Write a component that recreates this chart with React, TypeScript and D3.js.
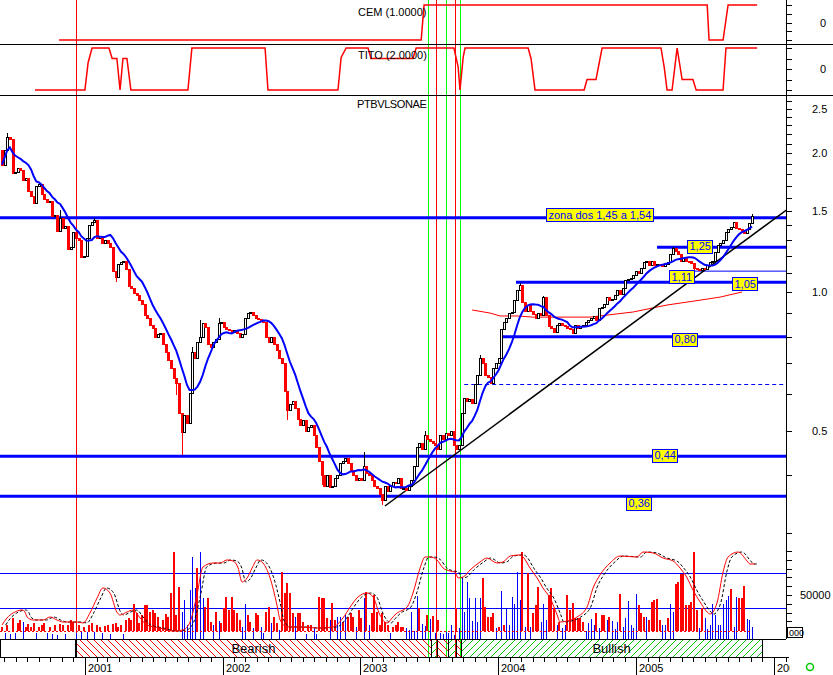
import React, { useMemo } from "react";
import * as d3 from "d3";

const FONT = "'Liberation Sans', Arial, Helvetica, sans-serif";

// ---------------- data ----------------
const firstWeek = new Date(2000, 4, 26); // first weekly bar
const firstOpen = 2.03;
const closes = [
  1.89, 2.03, 2.17, 2.15, 1.81, 1.82, 1.86, 1.84, 1.75, 1.77,
  1.66, 1.62, 1.56, 1.70, 1.72, 1.63, 1.59, 1.57, 1.58, 1.46,
  1.47, 1.36, 1.45, 1.38, 1.39, 1.24, 1.25, 1.35, 1.31, 1.30,
  1.19, 1.20, 1.31, 1.40, 1.42, 1.43, 1.31, 1.32, 1.28, 1.30,
  1.28, 1.25, 1.11, 1.08, 1.15, 1.16, 1.17, 1.12, 1.03, 1.02,
  0.995, 0.985, 0.96, 0.94, 0.89, 0.88, 0.85, 0.835, 0.80, 0.81,
  0.815, 0.77, 0.74, 0.71, 0.685, 0.65, 0.634, 0.546, 0.497, 0.54,
  0.52, 0.605, 0.74, 0.72, 0.78, 0.80, 0.855, 0.84, 0.77, 0.76,
  0.78, 0.79, 0.855, 0.86, 0.84, 0.83, 0.825, 0.82, 0.825, 0.815,
  0.80, 0.81, 0.88, 0.90, 0.905, 0.89, 0.88, 0.875, 0.87, 0.86,
  0.80, 0.78, 0.80, 0.77, 0.75, 0.72, 0.70, 0.61, 0.555, 0.57,
  0.58, 0.56, 0.53, 0.515, 0.527, 0.50, 0.51, 0.515, 0.49, 0.46,
  0.43, 0.40, 0.38, 0.40, 0.378, 0.38, 0.395, 0.40, 0.425, 0.43,
  0.435, 0.425, 0.41, 0.40, 0.39, 0.395, 0.39, 0.42, 0.405, 0.40,
  0.39, 0.38, 0.375, 0.365, 0.353, 0.38, 0.37, 0.38, 0.387, 0.385,
  0.395, 0.375, 0.375, 0.372, 0.38, 0.39, 0.42, 0.46, 0.47, 0.455,
  0.49, 0.48, 0.475, 0.47, 0.465, 0.455, 0.49, 0.48, 0.495, 0.49,
  0.50, 0.465, 0.455, 0.465, 0.545, 0.59, 0.58, 0.585, 0.575, 0.63,
  0.66, 0.72, 0.70, 0.66, 0.655, 0.635, 0.685, 0.70, 0.72, 0.83,
  0.86, 0.88, 0.90, 0.905, 0.96, 1.01, 1.035, 0.95, 0.91, 0.935,
  0.91, 0.895, 0.88, 0.90, 0.89, 0.975, 0.89, 0.845, 0.835, 0.82,
  0.85, 0.855, 0.85, 0.845, 0.835, 0.83, 0.815, 0.847, 0.835, 0.845,
  0.85, 0.86, 0.87, 0.88, 0.885, 0.87, 0.925, 0.93, 0.94, 0.975,
  0.96, 0.965, 0.985, 1.01, 0.99, 1.02, 1.06, 1.065, 1.07, 1.09,
  1.11, 1.10, 1.13, 1.16, 1.17, 1.145, 1.17, 1.145, 1.15, 1.145,
  1.14, 1.15, 1.16, 1.21, 1.245, 1.23, 1.21, 1.17, 1.185, 1.17,
  1.165, 1.155, 1.13, 1.12, 1.115, 1.13, 1.12, 1.145, 1.16, 1.17,
  1.22, 1.265, 1.28, 1.30, 1.35, 1.37, 1.385, 1.42, 1.38, 1.37,
  1.35, 1.345, 1.37, 1.41, 1.46,
];
const wickHighs: [number, number][] = [
  [2, 2.21], [22, 1.51], [35, 1.445], [72, 0.76], [75, 0.87], [82, 0.88],
  [137, 0.45], [160, 0.50], [181, 0.73], [196, 1.045], [205, 0.98], [254, 1.255], [284, 1.48],
];
const wickLows: [number, number][] = [
  [43, 1.05], [66, 0.597], [68, 0.443], [108, 0.527], [121, 0.381], [144, 0.345], [262, 1.116],
];
const maWeeks = 10;

// weekly volume in thousands and side (R = falling week, B = rising week)
const volumeK = [
  14, 7, 16, 6, 24, 7, 18, 22, 19, 14,
  17, 14, 18, 7, 14, 16, 18, 7, 14, 6,
  16, 5, 17, 16, 6, 16, 22, 19, 7, 16,
  8, 14, 8, 16, 18, 8, 16, 14, 7, 15,
  16, 6, 17, 18, 14, 16, 6, 22, 24, 22,
  40, 30, 18, 27, 39, 39, 31, 33, 30, 25,
  14, 22, 28, 25, 52, 99, 27, 59, 31, 44,
  16, 56, 93, 58, 81, 99, 47, 36, 47, 19,
  16, 31, 20, 18, 35, 48, 33, 48, 33, 30,
  22, 14, 40, 27, 19, 12, 30, 27, 14, 7,
  31, 36, 18, 25, 18, 10, 76, 52, 64, 52,
  30, 25, 30, 30, 19, 6, 16, 16, 12, 6,
  48, 47, 47, 24, 22, 41, 22, 25, 25, 19,
  27, 25, 30, 25, 14, 33, 24, 47, 53, 16,
  30, 50, 31, 16, 30, 19, 16, 7, 14, 16,
  19, 14, 14, 12, 10, 31, 9, 49, 35, 17,
  15, 27, 23, 26, 7, 22, 7, 6, 8, 7,
  16, 5, 35, 12, 69, 31, 65, 47, 20, 47,
  19, 47, 69, 36, 25, 25, 30, 12, 14, 55,
  16, 35, 16, 48, 40, 76, 44, 99, 14, 75,
  14, 30, 39, 59, 19, 40, 22, 50, 58, 35,
  16, 19, 12, 16, 50, 33, 41, 24, 24, 24,
  19, 9, 18, 23, 16, 30, 12, 27, 27, 22,
  25, 20, 11, 19, 51, 14, 24, 43, 16, 12,
  51, 39, 30, 25, 25, 22, 42, 44, 45, 22,
  16, 16, 24, 40, 31, 62, 65, 74, 74, 39,
  39, 42, 99, 33, 12, 35, 24, 11, 16, 40,
  27, 16, 16, 40, 44, 49, 57, 14, 48, 47,
  47, 60, 23, 22, 14,
];
const volumeSide = (
  "RBRBRBRRBR" + "RRRBRRRBRB" + "RBRRBRRRBR" + "BRBRRBRRBR" + "RBRRRRBRRR" +
  "RRRRRRRRRR" + "RRRRRRRRBB" + "BBBBRBBRRR" + "BRBRRRRRRR" + "RBBRRBRRBB" +
  "RRBRRBRRRR" + "RBRRRBRRBB" + "RRRRBRRBBR" + "BRRRBRRBRB" + "RRRRRRRBRR" +
  "RRRBBBBBRB" + "BRBRBRBBBB" + "BBRBBBBBBB" + "BBRRRRRBRB" + "RBBBBBBRBR" +
  "BRRRBBBRRR" + "BRBBRRRRRR" + "RBBBBRBRRB" + "RBBBRBBBBB" + "BRRRBRRRRR" +
  "BBRBBRRRRR" + "RRRRBRBBBB" + "BBBBBBRBBR" + "RRBBB"
).split("");
const redBaseK = 9;
const volumeTicksK = [10, 20, 30, 40, 50, 60, 70, 80, 90, 100];

// oscillator in the volume panel: [week, value]
const oscillator: [number, number][] = [
  [0, 10.6], [1.9, 18.6], [4.2, 24.3], [7.6, 27.7], [8.7, 25.4], [9.5, 19.7], [11.7, 16.3], [15.5, 16.3],
  [18.2, 19.7], [20.8, 16.3], [23.1, 14], [28.4, 14], [30.7, 12.9], [33.3, 24.3], [36, 41.4], [38.2, 52.9],
  [40.9, 47.1], [43.5, 25.4], [44.7, 22], [47.3, 25.4], [49.6, 27.7], [52.3, 18.6], [54.9, 10.6], [59.8, 7.1],
  [64.7, 3.7], [68.5, 4.9], [71.2, 14], [73.8, 44.9], [76.1, 76.9], [79.9, 81.4], [82.5, 81.4], [85.2, 84.9],
  [87.5, 83.7], [89.4, 75.7], [90.9, 59.7], [92.8, 64.3], [94.7, 75.7], [96.6, 84.9], [98.8, 81.4], [101.5, 64.3],
  [104.1, 33.4], [105.3, 16.3], [107.9, 8.3], [112.8, 8.3], [119.3, 7.1], [125.3, 8.3], [129.1, 18.6], [131.8, 31.1],
  [134.8, 42.6], [138.2, 47.1], [140.5, 42.6], [143.1, 22], [145.8, 12.9], [148, 19.7], [149.6, 24.3], [153.4, 31.1],
  [155.6, 47.1], [158.3, 75.7], [160.2, 88.3], [162.1, 88.3], [164.7, 84.9], [167, 75.7], [169.6, 72.3], [171.5, 71.1],
  [172.7, 64.3], [174.6, 65.4], [177.2, 73.4], [181, 82.6], [183.6, 87.1], [187.4, 81.4], [189.7, 82.6], [192.4, 89.4],
  [196.1, 90.6], [197.3, 88.3], [199.9, 75.7], [202.6, 64.3], [204.8, 52.9], [207.5, 41.4], [210.2, 22], [211.3, 14],
  [214, 15.1], [217.7, 19.7], [221.5, 31.1], [223.8, 52.9], [226.4, 67.7], [230.2, 81.4], [234, 89.4], [240.4, 88.3],
  [242.7, 94], [246.5, 92.9], [250.3, 87.1], [254.1, 83.7], [256.7, 75.7], [259.4, 64.3], [261.6, 50.6], [264.3, 36.9],
  [267, 25.4], [268.1, 23.1], [270.7, 35.7], [273, 71.1], [274.9, 88.3], [278.7, 94], [282.1, 83.7], [283.2, 80.3],
  [285, 80.3],
];
const signalLagWeeks = 1.4;
const oscLevels = [30, 70];

// upper indicator panels: [week, value]
const cem: [number, number][] = [
  [21.6, -1], [158.7, -1], [159.8, 1], [267, 1], [267.7, -1], [273, -1], [274.9, 1], [285.9, 1],
];
const tito: [number, number][] = [
  [12.5, -2], [31.4, -2], [32.6, 0.6], [34.1, 2], [40.5, 2], [41.7, 1], [43.5, 1], [44.7, -2],
  [45.8, 1], [47.3, 1], [48.8, -2], [70.4, -2], [71.9, 2], [99.6, 2], [100.7, -2], [127.2, -2],
  [128.4, 1.1], [130.3, 2], [138.6, 2], [139.7, 1], [155.6, 1], [156.8, 2], [171.1, 2], [172.7, 0.2],
  [173.4, -2], [174.6, 1.1], [175.3, 2], [199.2, 2], [200.3, 1], [201.8, -2], [220.4, -2], [221.5, -1],
  [224.9, -1], [227.2, 2], [249.5, 2], [250.7, 0.2], [251.8, -2], [253.7, -2], [255.6, 2], [257.5, -1],
  [261.6, -1], [262.8, -2], [273, -2], [274.1, 2], [285.9, 2],
];

// drawn objects on the price panel
const levels = [
  { value: 1.45, fromWeek: -1, width: 3 },
  { value: 1.25, fromWeek: 248, width: 3 },
  { value: 1.11, fromWeek: 253, width: 1 },
  { value: 1.05, fromWeek: 194.6, width: 3 },
  { value: 0.80, fromWeek: 188.6, width: 3 },
  { value: 0.44, fromWeek: -1, width: 3 },
  { value: 0.36, fromWeek: -1, width: 3 },
];
const notes = [
  { text: "zona dos 1,45 a 1,54", week: 206, value: 1.45, dy: -3 },
  { text: "1,25", week: 259.4, value: 1.25, dy: -1 },
  { text: "1,11", week: 252.6, value: 1.11, dy: 5.5 },
  { text: "1,05", week: 276.4, value: 1.05, dy: 1.5 },
  { text: "0,80", week: 253.7, value: 0.8, dy: 2.5 },
  { text: "0,44", week: 246.1, value: 0.44, dy: -1 },
  { text: "0,36", week: 236.3, value: 0.36, dy: 7 },
];
const trendLine: [number, number][] = [[145, 0.343], [297, 1.507]];
const dashedLevel = { value: 0.63, fromWeek: 175, toWeek: 297 };
const longCurve: [number, number][] = [
  [178, 0.914], [184.8, 0.9], [188.6, 0.887], [195, 0.887], [201, 0.882], [222.6, 0.882],
  [239, 0.905], [251.8, 0.937], [264.3, 0.96], [271.9, 0.975], [280.2, 1.0],
];
const redMarkers = [28, 164.3, 171.5];
const greenMarkers = [161.3, 168.1, 173.4];
const trendBand = [
  { from: 28, to: 162.4, kind: "bear" },
  { from: 162.4, to: 164.7, kind: "bull" },
  { from: 164.7, to: 168.9, kind: "bear" },
  { from: 168.9, to: 171.9, kind: "bull" },
  { from: 171.9, to: 173.8, kind: "bear" },
  { from: 173.8, to: 287.8, kind: "bull" },
];
const bandLabels = [
  { text: "Bearish", segment: 0 },
  { text: "Bullish", segment: 5 },
];
const priceTicks = d3.range(3, 27).map((k) => k / 10);
const priceLabels = [0.5, 1.0, 1.5, 2.0, 2.5];

// ---------------- layout ----------------
const AXIS_X = 786;
const SEP1 = 44;
const SEP2 = 95;
const VOL_BOTTOM = 639;
const BAND_BOTTOM = 657;

export default function App() {
  const measure = useMemo(() => {
    const ctx = document.createElement("canvas").getContext("2d");
    if (ctx) ctx.font = `11px ${FONT}`;
    return (s: string) => (ctx ? ctx.measureText(s).width : s.length * 6);
  }, []);

  const xTime = d3.scaleTime().domain([new Date(2001, 0, 1), new Date(2006, 0, 1)]).range([85, 774]);
  const weekDate = (w: number) => new Date(firstWeek.getTime() + w * 7 * 86400000);
  const xw = (w: number) => xTime(weekDate(w));

  const yMain = d3.scaleLog().domain([1, Math.E]).range([292, 92]);
  const yVol = d3.scaleLinear().domain([0, 50000]).range([VOL_BOTTOM, 595]);
  const yOsc = d3.scaleLinear().domain([30, 70]).range([608, 573]);
  const yCem = d3.scaleLinear().domain([-1, 1]).range([40, 5]);
  const yTito = d3.scaleLinear().domain([-2, 2]).range([90, 48]);

  const candles = closes.map((c, i) => {
    const o = i === 0 ? firstOpen : closes[i - 1];
    return { i, o, c, up: c >= o };
  });
  const ma = closes.map((_, i) => d3.mean(closes.slice(Math.max(0, i - maWeeks + 1), i + 1)) as number);

  const lineMain = d3.line<[number, number]>().x((d) => xw(d[0])).y((d) => yMain(d[1]));
  const maPath = d3.line<number>().x((_, i) => xw(i)).y((d) => yMain(d))(ma) || "";
  const oscPath = d3.line<[number, number]>().x((d) => xw(d[0])).y((d) => yOsc(d[1])).curve(d3.curveMonotoneX);
  const cemPath = d3.line<[number, number]>().x((d) => xw(d[0])).y((d) => yCem(d[1]))(cem) || "";
  const titoPath = d3.line<[number, number]>().x((d) => xw(d[0])).y((d) => yTito(d[1]))(tito) || "";

  const months = d3.timeMonth.range(xTime.invert(0), xTime.invert(AXIS_X + 2));
  const years = d3.timeYear.range(xTime.invert(0), xTime.invert(AXIS_X + 2));
  const redBaseY = yVol(redBaseK * 1000);
  const lastX = xw(closes.length - 1);

  return (
    <svg
      width={833}
      height={675}
      style={{ position: "absolute", left: 0, top: 0, background: "#fff", fontFamily: FONT }}
    >
      <defs>
        <pattern id="bear" patternUnits="userSpaceOnUse" width="7" height="7">
          <path d="M0,0 L7,7 M-1,6 L1,8 M6,-1 L8,1" stroke="#ff0000" strokeWidth="1" />
        </pattern>
        <pattern id="bull" patternUnits="userSpaceOnUse" width="7" height="7">
          <path d="M0,7 L7,0 M-1,1 L1,-1 M6,8 L8,6" stroke="#00c800" strokeWidth="1" />
        </pattern>
        <clipPath id="plotClip">
          <rect x={0} y={0} width={AXIS_X} height={675} />
        </clipPath>
        <clipPath id="yearClip">
          <rect x={0} y={0} width={790} height={675} />
        </clipPath>
      </defs>
      <rect x={0} y={0} width={833} height={675} fill="#fff" />

      {/* vertical markers */}
      <g shapeRendering="crispEdges">
        {greenMarkers.map((w, k) => (
          <line key={"g" + k} x1={Math.round(xw(w)) + 0.5} x2={Math.round(xw(w)) + 0.5} y1={0} y2={BAND_BOTTOM} stroke="#00ff00" />
        ))}
        {redMarkers.map((w, k) => (
          <line key={"r" + k} x1={Math.round(xw(w)) + 0.5} x2={Math.round(xw(w)) + 0.5} y1={0} y2={k === 0 ? VOL_BOTTOM : BAND_BOTTOM} stroke="#ff0000" />
        ))}
      </g>

      {/* separators */}
      <g shapeRendering="crispEdges" stroke="#000">
        <line x1={0} x2={833} y1={SEP1 + 0.5} y2={SEP1 + 0.5} />
        <line x1={0} x2={833} y1={SEP2 + 0.5} y2={SEP2 + 0.5} />
      </g>

      {/* CEM and TITO */}
      <path d={cemPath} fill="none" stroke="#ff0000" strokeWidth={1.5} />
      <path d={titoPath} fill="none" stroke="#ff0000" strokeWidth={1.5} />
      <text x={358} y={16} fontSize={11} fill="#000">CEM (1.0000)</text>
      <text x={358} y={59} fontSize={11} fill="#000">TITO (2.0000)</text>
      <text x={357} y={108} fontSize={11} fill="#000" letterSpacing={-0.4}>PTBVLSONAE</text>

      {/* price panel objects */}
      <g clipPath="url(#plotClip)">
        {levels.map((l, k) => (
          <line
            key={"lv" + k}
            x1={Math.max(0, xw(l.fromWeek))}
            x2={AXIS_X}
            y1={yMain(l.value)}
            y2={yMain(l.value)}
            stroke="#0000ff"
            strokeWidth={l.width}
          />
        ))}
        <line
          x1={xw(dashedLevel.fromWeek)}
          x2={xw(dashedLevel.toWeek)}
          y1={Math.round(yMain(dashedLevel.value)) + 0.5}
          y2={Math.round(yMain(dashedLevel.value)) + 0.5}
          stroke="#0000ff"
          strokeDasharray="4,3"
        />
        <path d={lineMain(longCurve) || ""} fill="none" stroke="#ff0000" strokeWidth={1} />
        <path d={lineMain(trendLine) || ""} fill="none" stroke="#000" strokeWidth={1.5} />

        {/* wicks */}
        <g shapeRendering="crispEdges">
          {wickHighs.map(([w, v], k) => {
            const c = candles[w];
            const top = Math.max(c.o, c.c);
            return (
              <line key={"wh" + k} x1={Math.round(xw(w)) + 0.5} x2={Math.round(xw(w)) + 0.5} y1={yMain(v)} y2={yMain(top)} stroke={c.up ? "#000" : "#ff0000"} />
            );
          })}
          {wickLows.map(([w, v], k) => {
            const c = candles[w];
            const bot = Math.min(c.o, c.c);
            return (
              <line key={"wl" + k} x1={Math.round(xw(w)) + 0.5} x2={Math.round(xw(w)) + 0.5} y1={yMain(bot)} y2={yMain(v)} stroke={c.up ? "#000" : "#ff0000"} />
            );
          })}
        </g>

        {/* candles */}
        <g shapeRendering="crispEdges">
          {candles.map((d) => {
            const x = Math.round(xw(d.i));
            const yTop = Math.round(yMain(Math.max(d.o, d.c)));
            const yBot = Math.round(yMain(Math.min(d.o, d.c)));
            const h = Math.max(1, yBot - yTop);
            return d.up ? (
              <rect key={d.i} x={x - 0.5} y={yTop + 0.5} width={2} height={h} fill="#fff" stroke="#000" strokeWidth={1} />
            ) : (
              <rect key={d.i} x={x - 1} y={yTop} width={3} height={h + 1} fill="#ff0000" />
            );
          })}
        </g>
        <path d={maPath} fill="none" stroke="#0000ff" strokeWidth={2} />
      </g>

      {/* notes */}
      {notes.map((n, k) => {
        const tw = measure(n.text);
        const x0 = Math.round(xw(n.week));
        const yc = yMain(n.value) + n.dy;
        return (
          <g key={"n" + k}>
            <rect x={x0 + 0.5} y={Math.round(yc - 6.5) + 0.5} width={Math.round(tw + 4)} height={13} fill="#ffff00" stroke="#0000ff" shapeRendering="crispEdges" />
            <text x={x0 + 2.5} y={yc + 4} fontSize={11} fill="#0000ff">{n.text}</text>
          </g>
        );
      })}

      {/* volume panel */}
      <g shapeRendering="crispEdges">
        {oscLevels.map((v, k) => (
          <line key={"ol" + k} x1={0} x2={AXIS_X} y1={Math.round(yOsc(v)) + 0.5} y2={Math.round(yOsc(v)) + 0.5} stroke="#0000ff" />
        ))}
        {volumeK.map((v, i) => {
          const x = Math.round(xw(i));
          const yt = yVol(v * 1000);
          if (volumeSide[i] === "R") {
            const h = redBaseY - yt;
            return h > 0 ? <rect key={"v" + i} x={x - 1} y={yt} width={2} height={h} fill="#ff0000" /> : null;
          }
          return <rect key={"v" + i} x={x} y={yt} width={1} height={VOL_BOTTOM - yt} fill="#0000ff" />;
        })}
        <line x1={0} x2={lastX} y1={Math.round(redBaseY) + 0.5} y2={Math.round(redBaseY) + 0.5} stroke="#ff0000" strokeDasharray="2,2" />
      </g>
      <path
        d={oscPath(oscillator.map(([w, v]) => [w + signalLagWeeks, v] as [number, number])) || ""}
        fill="none"
        stroke="#000"
        strokeWidth={1}
        strokeDasharray="3,2"
        clipPath="url(#plotClip)"
      />
      <path d={oscPath(oscillator) || ""} fill="none" stroke="#ff0000" strokeWidth={1} />

      {/* trend band */}
      <g shapeRendering="crispEdges">
        <rect x={0.5} y={VOL_BOTTOM + 0.5} width={xw(28) - 0.5} height={BAND_BOTTOM - VOL_BOTTOM} fill="#fff" stroke="#000" />
        {trendBand.map((s, k) => (
          <rect
            key={"b" + k}
            x={Math.round(xw(s.from)) + 0.5}
            y={VOL_BOTTOM + 0.5}
            width={Math.round(xw(s.to)) - Math.round(xw(s.from))}
            height={BAND_BOTTOM - VOL_BOTTOM}
            fill={s.kind === "bear" ? "url(#bear)" : "url(#bull)"}
            stroke="#000"
          />
        ))}
        <line x1={0} x2={AXIS_X} y1={VOL_BOTTOM + 0.5} y2={VOL_BOTTOM + 0.5} stroke="#000" />
        <line x1={0} x2={AXIS_X + 3} y1={BAND_BOTTOM + 0.5} y2={BAND_BOTTOM + 0.5} stroke="#000" />
      </g>
      {bandLabels.map((b, k) => {
        const s = trendBand[b.segment];
        return (
          <text key={"bl" + k} x={(xw(s.from) + xw(s.to)) / 2} y={653} fontSize={13} textAnchor="middle" fill="#000">
            {b.text}
          </text>
        );
      })}

      {/* time axis */}
      <g shapeRendering="crispEdges" stroke="#000">
        {months.map((m, k) => (
          <line key={"m" + k} x1={Math.round(xTime(m)) + 0.5} x2={Math.round(xTime(m)) + 0.5} y1={BAND_BOTTOM} y2={BAND_BOTTOM + 5} />
        ))}
        {years.map((y, k) => (
          <line key={"y" + k} x1={Math.round(xTime(y)) + 0.5} x2={Math.round(xTime(y)) + 0.5} y1={BAND_BOTTOM} y2={675} />
        ))}
      </g>
      <g clipPath="url(#yearClip)">
        {years.map((y, k) => (
          <text key={"yt" + k} x={Math.round(xTime(y)) + 3} y={672} fontSize={11} fill="#000">
            {d3.timeFormat("%Y")(y)}
          </text>
        ))}
      </g>

      {/* right axis */}
      <g shapeRendering="crispEdges" stroke="#000">
        <line x1={AXIS_X + 0.5} x2={AXIS_X + 0.5} y1={0} y2={VOL_BOTTOM} />
        {[-1, -0.5, 0, 0.5, 1].map((v) => (
          <line key={"ct" + v} x1={AXIS_X} x2={AXIS_X + 6} y1={Math.round(yCem(v)) + 0.5} y2={Math.round(yCem(v)) + 0.5} />
        ))}
        {[-2, -1, 0, 1, 2].map((v) => (
          <line key={"tt" + v} x1={AXIS_X} x2={AXIS_X + 6} y1={Math.round(yTito(v)) + 0.5} y2={Math.round(yTito(v)) + 0.5} />
        ))}
        {priceTicks.map((v) => (
          <line key={"pt" + v} x1={AXIS_X} x2={AXIS_X + 6} y1={Math.round(yMain(v)) + 0.5} y2={Math.round(yMain(v)) + 0.5} />
        ))}
        {volumeTicksK.map((v) => (
          <line key={"vt" + v} x1={AXIS_X} x2={AXIS_X + 6} y1={Math.round(yVol(v * 1000)) + 0.5} y2={Math.round(yVol(v * 1000)) + 0.5} />
        ))}
        <rect x={787.5} y={627.5} width={15} height={10} fill="#fff" stroke="#000" />
      </g>
      <text x={789} y={636} fontSize={9} fill="#000">000</text>
      <text x={820} y={yCem(0) + 4} fontSize={11} fill="#000">0</text>
      <text x={820} y={yTito(0) + 4} fontSize={11} fill="#000">0</text>
      {priceLabels.map((v) => (
        <text key={"pl" + v} x={812} y={yMain(v) + 4} fontSize={11} fill="#000">
          {d3.format(".1f")(v)}
        </text>
      ))}
      <text x={800} y={yVol(50000) + 4} fontSize={11} fill="#000">50000</text>
      <circle cx={810} cy={667} r={3.5} fill="none" stroke="#00c800" strokeWidth={1.5} />
    </svg>
  );
}
